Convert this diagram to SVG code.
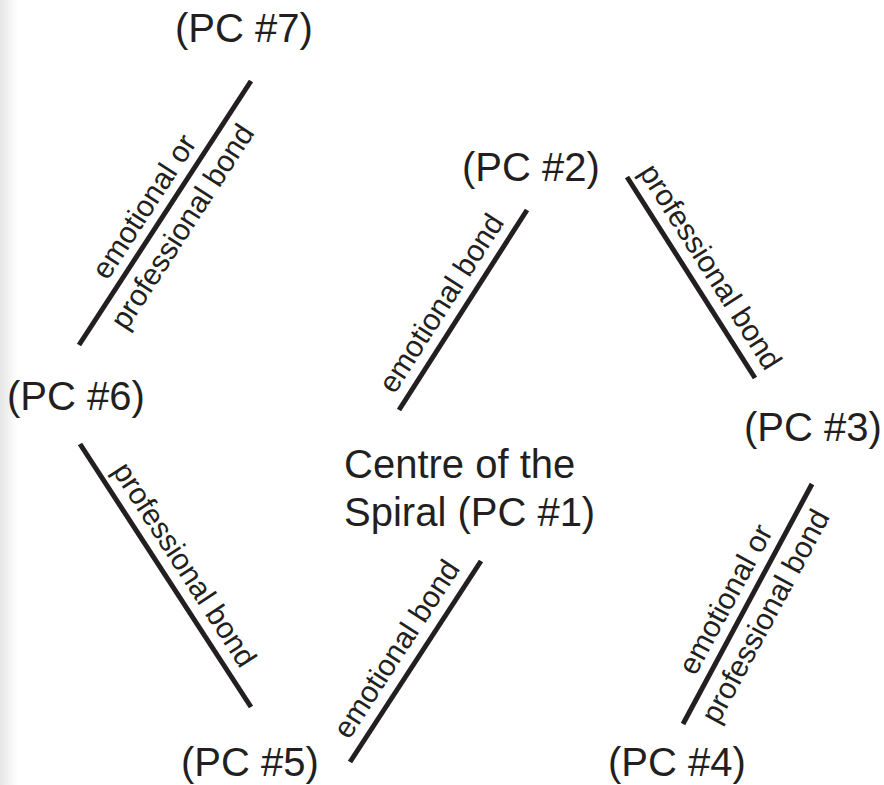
<svg xmlns="http://www.w3.org/2000/svg" width="884" height="785" viewBox="0 0 884 785">
<defs>
<linearGradient id="edge" x1="0" y1="0" x2="1" y2="0">
<stop offset="0" stop-color="#e6e6e6"/>
<stop offset="1" stop-color="#ffffff"/>
</linearGradient>
<style>
.node{font-family:"Liberation Sans",Arial,sans-serif;font-size:40px;fill:#231f20}
.lbl{font-family:"Liberation Sans",Arial,sans-serif;font-size:30px;fill:#231f20;text-anchor:middle}
.bond{stroke:#231f20;stroke-width:5;fill:none}
</style>
</defs>
<rect x="0" y="0" width="884" height="785" fill="#ffffff"/>
<rect x="0" y="0" width="18" height="785" fill="url(#edge)"/>
<g id="connectors">
<line class="bond" x1="251" y1="81" x2="79" y2="345"/>
<line class="bond" x1="527" y1="210" x2="399" y2="410"/>
<line class="bond" x1="627" y1="177" x2="755" y2="378"/>
<line class="bond" x1="80" y1="444" x2="251" y2="707"/>
<line class="bond" x1="481" y1="561" x2="350" y2="762"/>
<line class="bond" x1="812" y1="484" x2="683" y2="724"/>
</g>
<g id="labels">
<g transform="translate(165,213) rotate(-57)"><text class="lbl" x="-6" y="-11">emotional or</text><text class="lbl" x="-2" y="32">professional bond</text></g>
<g transform="translate(463,310) rotate(-57.4)"><text class="lbl" x="-6" y="-12">emotional bond</text></g>
<g transform="translate(691,277) rotate(57.5)"><text class="lbl" x="2" y="-12">professional bond</text></g>
<g transform="translate(165,575) rotate(57)"><text class="lbl" x="2" y="-12">professional bond</text></g>
<g transform="translate(415,661) rotate(-57)"><text class="lbl" x="0" y="-12">emotional bond</text></g>
<g transform="translate(747,604) rotate(-61.7)"><text class="lbl" x="-6" y="-11">emotional or</text><text class="lbl" x="-2" y="32">professional bond</text></g>
</g>
<g id="pc7"><text class="node" x="175" y="42">(PC #7)</text></g>
<g id="pc2"><text class="node" x="462" y="181">(PC #2)</text></g>
<g id="pc6"><text class="node" x="7" y="410">(PC #6)</text></g>
<g id="pc3"><text class="node" x="744" y="441">(PC #3)</text></g>
<g id="pc1"><text class="node" x="344" y="478">Centre of the</text><text class="node" x="344" y="526">Spiral (PC #1)</text></g>
<g id="pc5"><text class="node" x="181" y="776">(PC #5)</text></g>
<g id="pc4"><text class="node" x="608" y="776">(PC #4)</text></g>
</svg>
